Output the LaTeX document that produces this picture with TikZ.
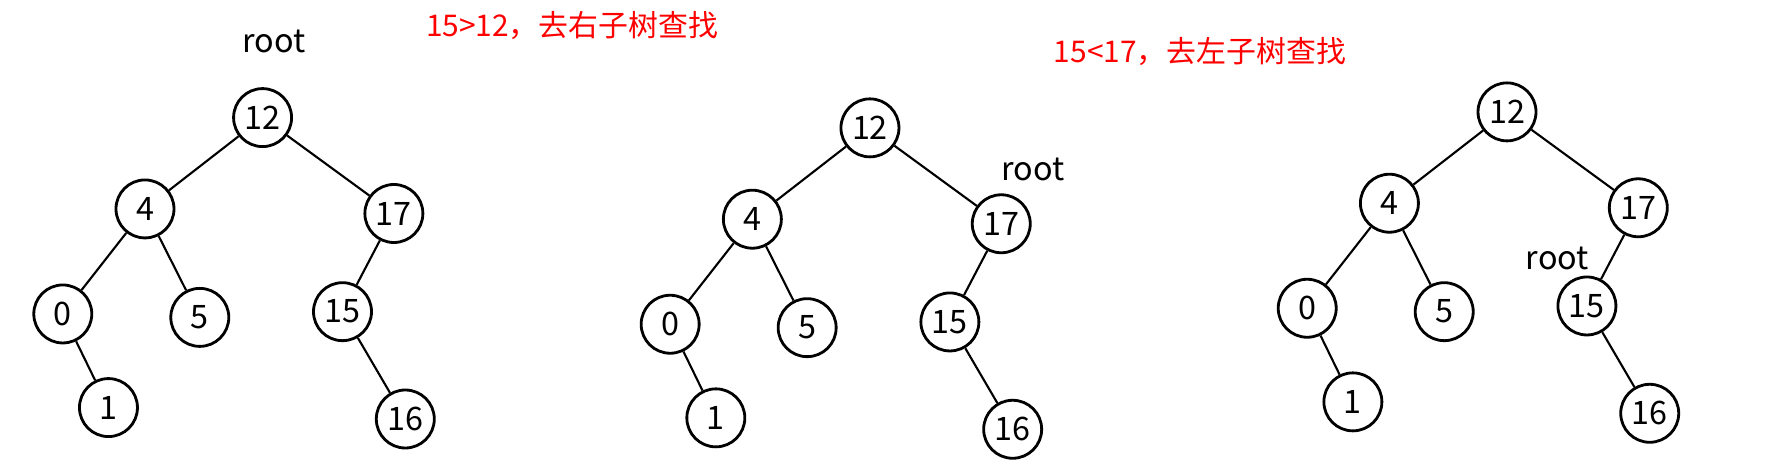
\documentclass[tikz,border=0pt]{standalone}
\usepackage{fontspec}
\setmainfont{Noto Sans CJK SC}
\tikzset{
        % tree nodes
        bstnode/.style={circle, draw=black, thick, fill=white, inner sep=0pt, minimum size=0.58cm, font=\fontsize{9.2}{10}\selectfont},
        % root pointer label
        rootlabel/.style={font=\fontsize{9.2}{10}\selectfont},
        % red hints
        hint/.style={red, anchor=west, font=\fontsize{8.5}{10}\selectfont}
}
% one search tree, node names prefixed by #1
\newcommand{\bsttree}[1]{
    \node[bstnode] (#1n12) at (2.30,-1.03) {12};
    \node[bstnode] (#1n4)  at (1.27,-1.83) {4};
    \node[bstnode] (#1n17) at (3.45,-1.87) {17};
    \node[bstnode] (#1n0)  at (0.55,-2.75) {0};
    \node[bstnode] (#1n5)  at (1.75,-2.78) {5};
    \node[bstnode] (#1n15) at (3.00,-2.73) {15};
    \node[bstnode] (#1n1)  at (0.95,-3.57) {1};
    \node[bstnode] (#1n16) at (3.55,-3.67) {16};
    \draw (#1n12) -- (#1n4);
    \draw (#1n12) -- (#1n17);
    \draw (#1n4) -- (#1n0);
    \draw (#1n4) -- (#1n5);
    \draw (#1n0) -- (#1n1);
    \draw (#1n17) -- (#1n15);
    \draw (#1n15) -- (#1n16);
}
\begin{document}
\begin{tikzpicture}[scale=1.1417, semithick]
    \useasboundingbox (0,0) rectangle (15.6,-4.16);
    \bsttree{a}
    \begin{scope}[shift={(5.32,-0.09)}]
        \bsttree{b}
    \end{scope}
    \begin{scope}[shift={(10.90,0.05)}]
        \bsttree{c}
    \end{scope}
    \node[rootlabel] (roota) at (2.40,-0.36) {root};
    \node[rootlabel] (rootb) at (9.05,-1.48) {root};
    \node[rootlabel] (rootc) at (13.64,-2.26) {root};
    \node[hint] (hinta) at (3.62,-0.22) {15>12，去右子树查找};
    \node[hint] (hintb) at (9.12,-0.45) {15<17，去左子树查找};
\end{tikzpicture}
\end{document}
